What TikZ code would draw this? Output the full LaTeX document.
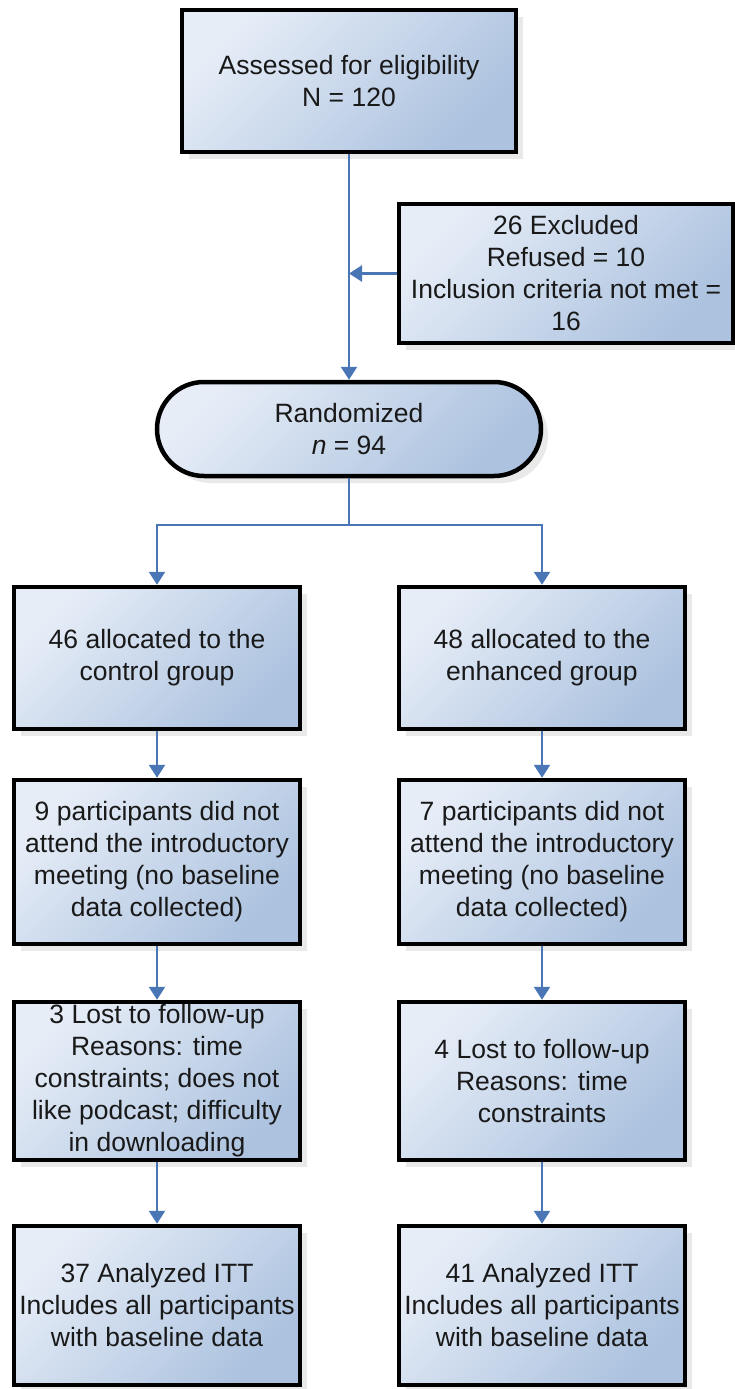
\documentclass[tikz,border=0pt]{standalone}
\usepackage{fontspec}
\setmainfont{Liberation Sans}
\usetikzlibrary{arrows.meta,shadows,shapes.misc}
\definecolor{boxlight}{RGB}{230,237,247}
\definecolor{boxdark}{RGB}{172,194,223}
\definecolor{linkblue}{RGB}{74,118,181}
\def\lx{157}
\def\rx{542}

\begin{document}
\begin{tikzpicture}[x=1pt,y=-1pt,
	flowbox/.style={draw=black, line width=4.5pt, align=center, inner sep=0pt,
		top color=boxlight, bottom color=boxdark, shading angle=45,
		drop shadow={shadow xshift=7pt, shadow yshift=-7pt, fill=black!25, opacity=0.35},
		font=\fontsize{26.5}{32}\selectfont, text=black!90},
	colbox/.style={flowbox, minimum width=286pt},
	link/.style={draw=linkblue, line width=2.5pt},
	linkarrow/.style={link, -{Triangle[width=16pt,length=13pt]}}]
		\useasboundingbox (0,0) rectangle (735,1389);

		% Screening and exclusion
		\node[flowbox, minimum width=334pt, minimum height=142pt] (assess) at (349,81) {Assessed for eligibility\\N = 120};
		\node[flowbox, minimum width=334pt, minimum height=139pt] (excl) at (566,273.5) {26 Excluded\\Refused = 10\\Inclusion criteria not met =\\16};
		\node[flowbox, rounded rectangle, minimum width=384pt, minimum height=94pt] (rand) at (349,429) {Randomized\\{\itshape n} = 94};

		% Control group column
		\node[colbox, minimum height=142pt] (ctrlalloc) at (\lx,658) {46 allocated to the\\control group};
		\node[colbox, minimum height=164pt] (ctrlmiss) at (\lx,862) {9 participants did not\\attend the introductory\\meeting (no baseline\\data collected)};
		\node[colbox, minimum height=158pt] (ctrllost) at (\lx,1081) {3 Lost to follow-up\\Reasons: time\\constraints; does not\\like podcast; difficulty\\in downloading};
		\node[colbox, minimum height=159pt] (ctrlitt) at (\lx,1305.5) {37 Analyzed ITT\\Includes all participants\\with baseline data};

		% Enhanced group column
		\node[colbox, minimum height=142pt] (enhalloc) at (\rx,658) {48 allocated to the\\enhanced group};
		\node[colbox, minimum height=164pt] (enhmiss) at (\rx,862) {7 participants did not\\attend the introductory\\meeting (no baseline\\data collected)};
		\node[colbox, minimum height=158pt] (enhlost) at (\rx,1081) {4 Lost to follow-up\\Reasons: time\\constraints};
		\node[colbox, minimum height=159pt] (enhitt) at (\rx,1305.5) {41 Analyzed ITT\\Includes all participants\\with baseline data};

		% Connectors
		\coordinate (split) at (349,525);
		\draw[linkarrow] (assess) -- (rand);
		\draw[linkarrow] (excl.west) -- (excl.west -| assess.south);
		\draw[link] (rand) -- (split);
		\draw[linkarrow] (split) -| (ctrlalloc.north);
		\draw[linkarrow] (split) -| (enhalloc.north);
		\draw[linkarrow] (ctrlalloc) -- (ctrlmiss);
		\draw[linkarrow] (ctrlmiss) -- (ctrllost);
		\draw[linkarrow] (ctrllost) -- (ctrlitt);
		\draw[linkarrow] (enhalloc) -- (enhmiss);
		\draw[linkarrow] (enhmiss) -- (enhlost);
		\draw[linkarrow] (enhlost) -- (enhitt);
	\end{tikzpicture}
\end{document}
